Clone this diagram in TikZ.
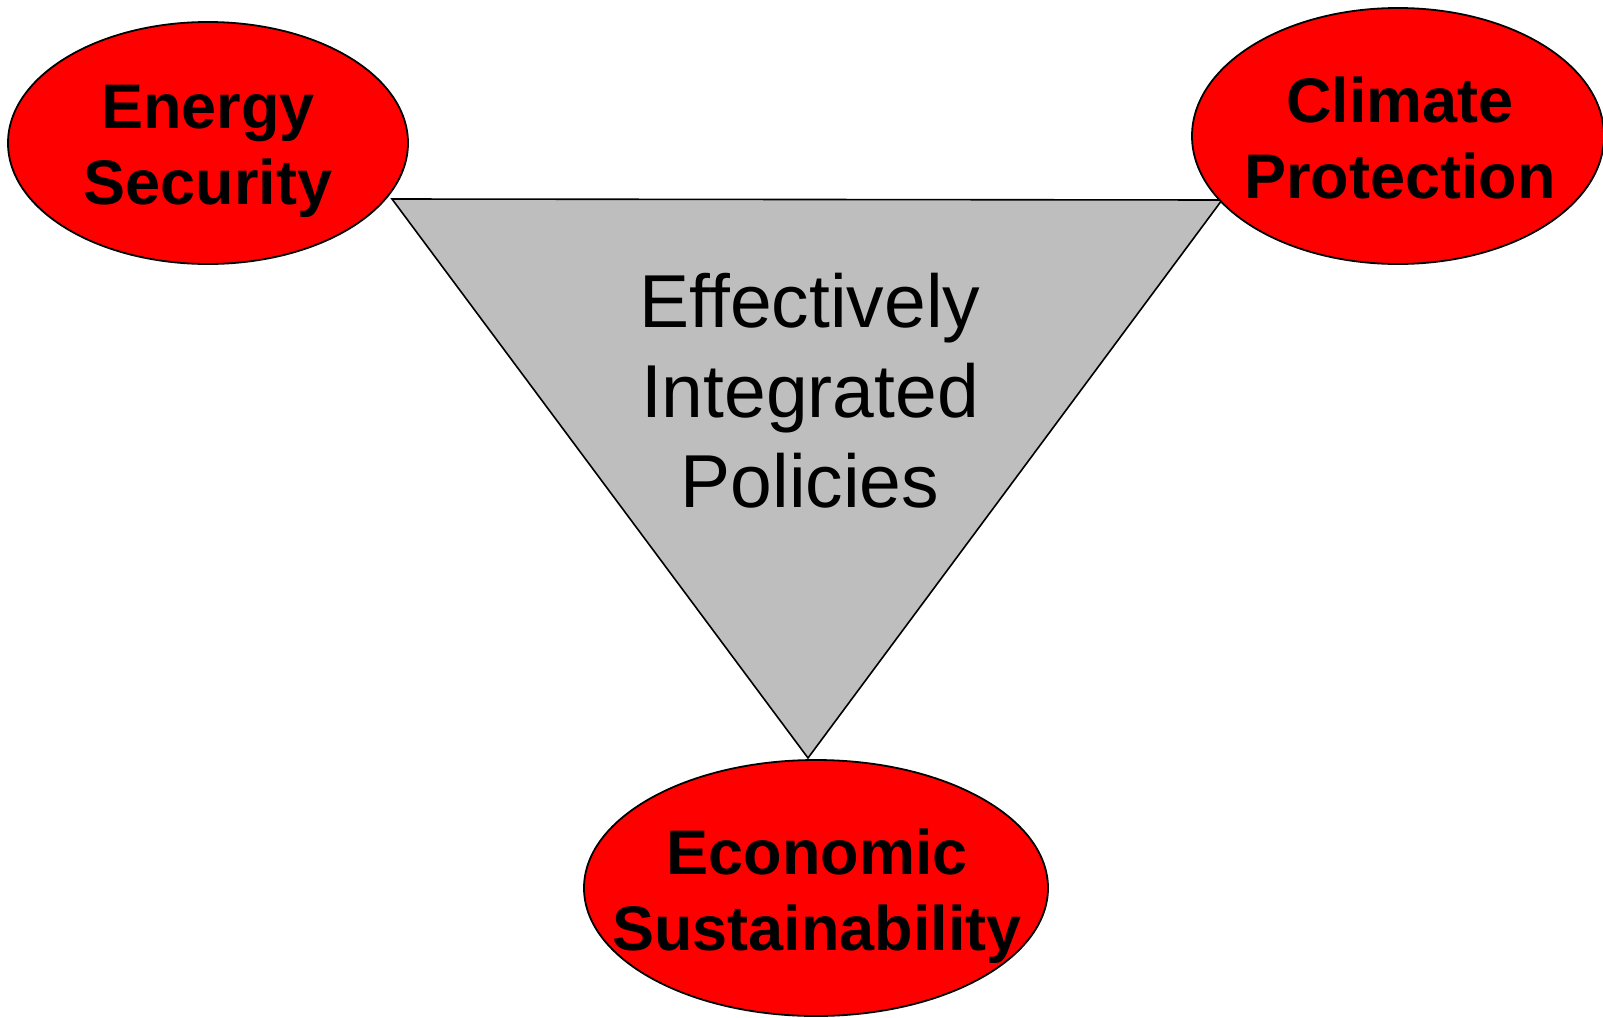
\documentclass[tikz,border=0pt]{standalone}
\usepackage{fontspec}
\setmainfont[Ligatures=NoCommon]{Liberation Sans}
\usetikzlibrary{shapes.geometric}
\usetikzlibrary{positioning}
\definecolor{goalred}{RGB}{255,0,0}
\definecolor{policygray}{RGB}{190,190,190}
\tikzset{
	goal/.style={
		ellipse, draw=black, fill=goalred, line width=1.8pt, inner sep=0pt
	},
	goal text/.style={
		font=\fontsize{63}{76}\selectfont\bfseries, align=center, inner sep=0pt
	},
	policy/.style={
		draw=black, fill=policygray, line width=1.6pt, line join=miter
	},
	policy text/.style={
		font=\fontsize{75}{90}\selectfont, align=center, inner sep=0pt
	}
}

\begin{document}
\begin{tikzpicture}[x=1pt, y=-1pt]
    \useasboundingbox (0,0) rectangle (1603,1017);

    % corners of the policy triangle
    \coordinate (tl) at (392,199);
    \coordinate (tr) at (1222,200);
    \coordinate (bt) at (808,758);
    \draw [policy] (tl) -- (tr) -- (bt) -- cycle;
    \node [policy text] (policies) at (810,391) {Effectively\\Integrated\\Policies};

    % the three goals
    \node [goal, minimum width=400pt, minimum height=242pt] (energy) at (208,143) {};
    \node [goal, minimum width=412pt, minimum height=256pt] (climate) at (1398,136) {};
    \node [goal, minimum width=464pt, minimum height=256pt] (economy) at (816,888) {};

    \node [goal text] (energy-text) at (208,151) {Energy\\Security};
    \node [goal text] (climate-text) at (1400,138) {Climate\\Protection};
    \node [goal text] (economy-text) at (817,896) {Economic\\Sustainability};
\end{tikzpicture}
\end{document}
